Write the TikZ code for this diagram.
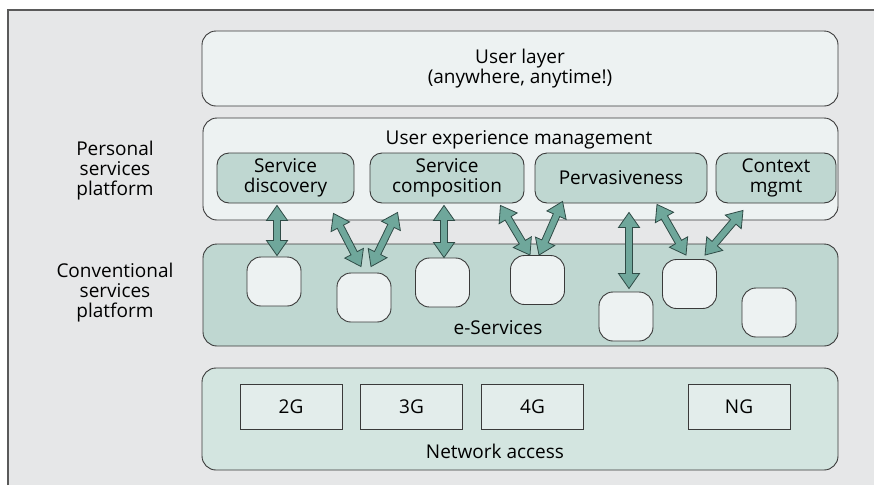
\documentclass[tikz,border=0pt]{standalone}
\usepackage{fontspec}
\setmainfont{Open Sans}
\usetikzlibrary{calc}

\definecolor{pagegrey}{HTML}{E6E7E8}
\definecolor{framegrey}{HTML}{5A5A5A}
\definecolor{edgegrey}{HTML}{3A3A3A}
\definecolor{palefill}{HTML}{EDF2F2}
\definecolor{tealfill}{HTML}{BFD7D1}
\definecolor{netfill}{HTML}{D3E5E0}
\definecolor{genfill}{HTML}{E3EDEB}
\definecolor{arrowfill}{HTML}{6FA79B}
\definecolor{arrowedge}{HTML}{2F4B46}

% double-headed block arrow from #1 to #2 (coordinates given with parentheses)
\newcommand\dblarrow[2]{%
  \path #1 coordinate (da-a) #2 coordinate (da-b);
  \path ($(da-a)!15pt!(da-b)$) coordinate (da-h1)
        ($(da-b)!15pt!(da-a)$) coordinate (da-h2);
  \draw[blockarrow] (da-a)
    -- ($(da-h1)!10.5pt!90:(da-b)$) -- ($(da-h1)!3.5pt!90:(da-b)$)
    -- ($(da-h2)!3.5pt!90:(da-b)$) -- ($(da-h2)!10.5pt!90:(da-b)$)
    -- (da-b)
    -- ($(da-h2)!10.5pt!-90:(da-b)$) -- ($(da-h2)!3.5pt!-90:(da-b)$)
    -- ($(da-h1)!3.5pt!-90:(da-b)$) -- ($(da-h1)!10.5pt!-90:(da-b)$)
    -- cycle;
}

\tikzset{
  every node/.style={font=\fontsize{19}{20}\selectfont, text=black},
  layerbox/.style={draw=edgegrey, line width=0.9pt, rounded corners=14pt,
    minimum width=636pt, minimum height=102pt, inner sep=0pt, align=center},
  svcbox/.style={draw=edgegrey, line width=0.9pt, rounded corners=12pt,
    fill=tealfill, minimum height=50pt, inner sep=0pt, align=center},
  eservice/.style={draw=edgegrey, line width=0.9pt, rounded corners=14pt,
    fill=palefill, minimum width=54pt, minimum height=49pt, inner sep=0pt},
  genbox/.style={draw=edgegrey, line width=0.9pt, fill=genfill,
    minimum width=102pt, minimum height=45pt, inner sep=0pt},
  sidelabel/.style={align=center, inner sep=0pt},
  blockarrow/.style={fill=arrowfill, draw=arrowedge, line width=0.8pt, line join=miter},
}

\begin{document}
\begin{tikzpicture}[x=1pt,y=-1pt]
\useasboundingbox (0,0) rectangle (874,485);

% panel background and its frame
\fill[pagegrey] (8,10) rectangle (874,485);
\draw[framegrey, line width=1.2pt] (8,485) -- (8,10) -- (874,10);

% user layer
\node[layerbox, fill=palefill, minimum height=75pt] (user) at (520,68.5)
  {User layer\\(anywhere, anytime!)};

% personal services platform
\node[sidelabel] (pspl) at (115,171) {Personal\\services\\platform};
\node[layerbox, fill=palefill, minimum width=635pt] (uem) at (520.5,169) {};
\node[anchor=base, inner sep=0pt] (uemtitle) at (519,144) {User experience management};
\node[svcbox, minimum width=137pt] (sd) at (285.5,178) {Service\\discovery};
\node[svcbox, minimum width=154pt] (sc) at (447,178) {Service\\composition};
\node[svcbox, minimum width=172pt] (pv) at (621,178) {Pervasiveness};
\node[svcbox, minimum width=120pt] (cm) at (776,178) {Context\\mgmt};

% conventional services platform
\node[sidelabel] (cspl) at (115,293) {Conventional\\services\\platform};
\node[layerbox, fill=tealfill, minimum width=635pt] (conv) at (520.5,295) {};
\node[eservice] (b1) at (274,281.5) {};
\node[eservice] (b2) at (364,297.5) {};
\node[eservice] (b3) at (442.5,282.5) {};
\node[eservice] (b4) at (537.5,280) {};
\node[eservice] (b5) at (626,316.5) {};
\node[eservice] (b6) at (689.5,284) {};
\node[eservice] (b7) at (769,312.5) {};
\node[anchor=base, inner sep=0pt] (eserv) at (498,334) {e-Services};

% network access
\node[layerbox, fill=netfill] (net) at (520,419) {};
\node[genbox] (g2) at (291,406.5) {2G};
\node[genbox] (g3) at (411.5,406.5) {3G};
\node[genbox] (g4) at (532.5,406.5) {4G};
\node[genbox] (gn) at (739,406.5) {NG};
\node[anchor=base, inner sep=0pt] (netlabel) at (495,458) {Network access};

% links between the service functions and the e-services
\dblarrow{([shift={(-8.5,2)}]sd.south)}{([shift={(3,-1)}]b1.north)}
\dblarrow{([shift={(-21,10)}]sd.south east)}{([shift={(-3,-6)}]b2.north)}
\dblarrow{([shift={(28,9)}]sc.south west)}{([shift={(7,-6)}]b2.north)}
\dblarrow{([shift={(-3,2)}]sc.south)}{([shift={(1.5,0)}]b3.north)}
\dblarrow{([shift={(-24,2)}]sc.south east)}{([shift={(-7.5,0)}]b4.north)}
\dblarrow{([shift={(28,-2)}]pv.south west)}{([shift={(1.5,0)}]b4.north)}
\dblarrow{([shift={(8,9)}]pv.south)}{([shift={(3,-3)}]b5.north)}
\dblarrow{([shift={(36,1)}]pv.south)}{([shift={(-3.5,-4)}]b6.north)}
\dblarrow{([shift={(-33,7)}]cm.south)}{([shift={(15.5,-4)}]b6.north)}
\end{tikzpicture}
\end{document}
